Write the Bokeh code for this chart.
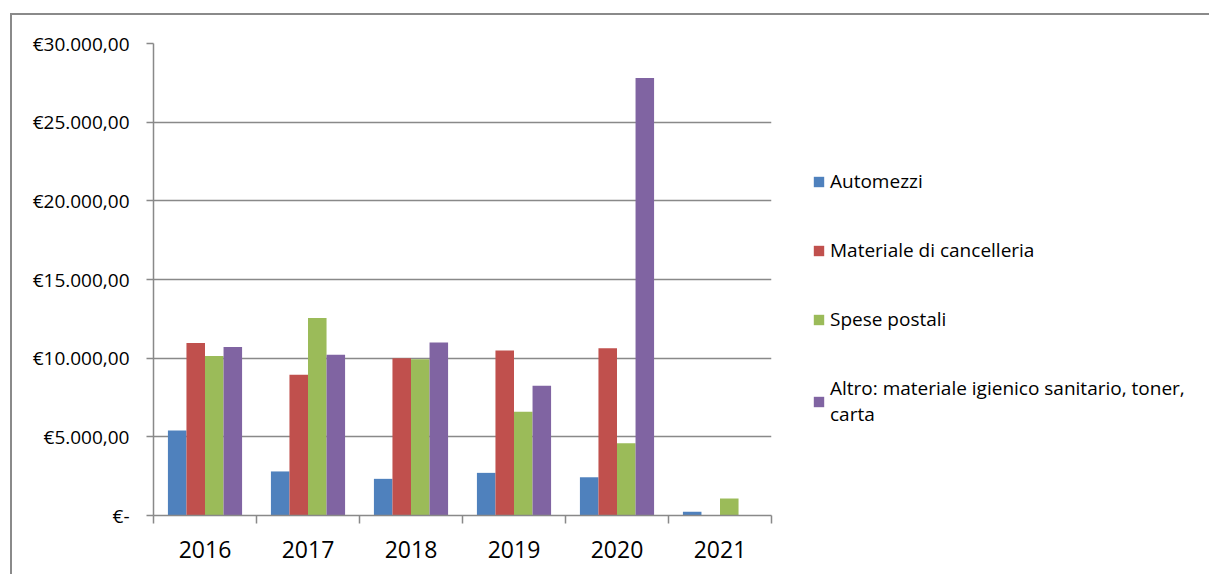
from bokeh.plotting import figure
from bokeh.models import ColumnDataSource, FixedTicker, Legend, LegendItem, Range1d
from bokeh.embed import file_html
from bokeh.resources import INLINE

years = ["2016", "2017", "2018", "2019", "2020", "2021"]
automezzi = [5400, 2800, 2330, 2710, 2430, 235]
cancelleria = [10970, 8950, 10000, 10480, 10630, 0]
postali = [10140, 12550, 9930, 6600, 4590, 1080]
altro = [10710, 10220, 10990, 8240, 27810, 0]
series_names = ["Automezzi", "Materiale di cancelleria", "Spese postali",
                "Altro: materiale igienico sanitario, toner,\ncarta"]
y_ticks = [0, 5000, 10000, 15000, 20000, 25000, 30000]
y_tick_labels = ["€-", "€5.000,00", "€10.000,00", "€15.000,00", "€20.000,00",
                 "€25.000,00", "€30.000,00"]

colors = ["#4F81BD", "#C0504D", "#9BBB59", "#8064A2"]
offsets = [-0.27, -0.09, 0.09, 0.27]
grid_col = "#898989"
FONT = "Open Sans"

p = figure(frame_width=618, frame_height=472, output_backend="svg", toolbar_location=None,
           x_range=Range1d(0, len(years)), y_range=Range1d(0, 30000),
           min_border_left=141, min_border_top=28, min_border_bottom=59,
           min_border_right=0)
p.styles = {"border-left": "2px solid #8a8a8a", "border-top": "2px solid #8a8a8a",
            "margin-top": "13px", "margin-left": "10px"}
p.outline_line_color = None
p.xgrid.grid_line_color = None
p.ygrid.grid_line_color = grid_col
p.ygrid.grid_line_width = 1.5
p.ygrid.ticker = FixedTicker(ticks=y_ticks)

items = []
for vals, col, off, name in zip([automezzi, cancelleria, postali, altro], colors, offsets, series_names):
    src = ColumnDataSource(dict(x=[i + 0.5 + off for i in range(len(years))], top=vals))
    r = p.vbar(x="x", top="top", width=0.18, bottom=0, source=src, fill_color=col, line_color=None)
    items.append(LegendItem(label=name, renderers=[r]))

# x axis
p.xaxis.ticker = FixedTicker(ticks=[i + 0.5 for i in range(len(years))],
                             minor_ticks=list(range(len(years) + 1)))
p.xaxis.major_label_overrides = {i + 0.5: y for i, y in enumerate(years)}
p.xaxis.major_tick_line_color = None
p.xaxis.minor_tick_out = 8
p.xaxis.minor_tick_in = 0
p.xaxis.minor_tick_line_color = grid_col
p.xaxis.minor_tick_line_width = 1.5
p.xaxis.axis_line_color = grid_col
p.xaxis.axis_line_width = 1.5
p.xaxis.major_label_text_font = FONT
p.xaxis.major_label_text_font_size = "23px"
p.xaxis.major_label_text_color = "black"
p.xaxis.major_label_standoff = 17

# y axis
p.yaxis.ticker = FixedTicker(ticks=y_ticks)
p.yaxis.major_label_overrides = dict(zip(y_ticks, y_tick_labels))
p.yaxis.minor_tick_line_color = None
p.yaxis.major_tick_out = 7
p.yaxis.major_tick_in = 0
p.yaxis.major_tick_line_color = grid_col
p.yaxis.major_tick_line_width = 1.5
p.yaxis.axis_line_color = grid_col
p.yaxis.axis_line_width = 1.5
p.yaxis.major_label_text_font = FONT
p.yaxis.major_label_text_font_size = "19px"
p.yaxis.major_label_text_color = "black"
p.yaxis.major_label_standoff = 17

legend = Legend(items=items, location=(41, 88), border_line_color=None,
                background_fill_alpha=0, label_text_font=FONT,
                label_text_font_size="19px", label_text_color="black",
                glyph_width=13, glyph_height=13, spacing=43, margin=0, padding=0,
                label_standoff=5)
p.add_layout(legend, "right")

open("out.html", "w").write(file_html(p, INLINE))
